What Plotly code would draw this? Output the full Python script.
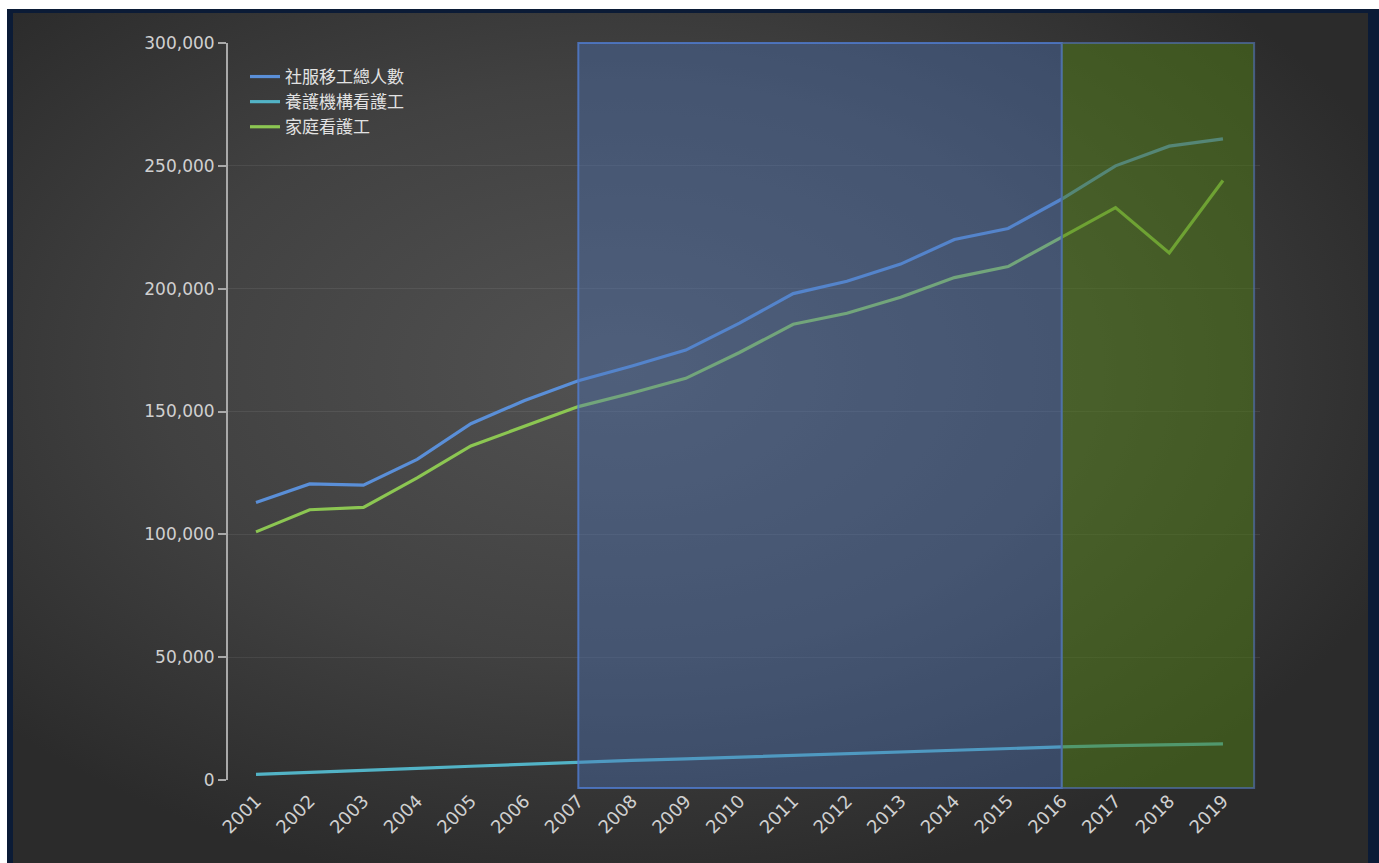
import base64
import plotly.graph_objects as go

years = list(range(2001, 2020))
total_workers = [113000, 120500, 120000, 130500, 145000, 154500, 162500, 168500, 175000, 186000,
                 198000, 203000, 210000, 220000, 224500, 236500, 250000, 258000, 261000]
institution_carers = [2300, 3000, 3800, 4700, 5600, 6500, 7200, 8000, 8600, 9300,
                      10000, 10800, 11500, 12300, 12800, 13500, 14000, 14500, 14700]
home_carers = [101000, 110000, 111000, 123000, 136000, 144000, 152000, 157500, 163500, 174000,
               185500, 190000, 196500, 204500, 209000, 221000, 233000, 214500, 244000]
series_names = ["社服移工總人數", "養護機構看護工", "家庭看護工"]
band_blue = (2007, 2016)
band_green = (2016, 2019.58)

W, H = 1379, 863
ML, MR, MT, MB = 228, 119, 43, 83
PW, PH = W - ML - MR, H - MT - MB
STEP = 53.72        # px per year on the data axis

svg = f"""<svg xmlns='http://www.w3.org/2000/svg' width='{W}' height='{H}' viewBox='0 0 {W} {H}' preserveAspectRatio='none'>
<defs><radialGradient id='g' cx='0.45' cy='0.42' r='0.62'>
<stop offset='0' stop-color='#525252'/><stop offset='0.55' stop-color='#414141'/><stop offset='1' stop-color='#2b2b2b'/></radialGradient></defs>
<rect width='{W}' height='{H}' fill='#ffffff'/>
<rect x='7' y='9' width='{W-7}' height='{H-9}' fill='#0b1b36'/>
<rect x='13' y='13' width='{W-13-11}' height='{H-13}' fill='url(#g)'/>
</svg>"""
svg_uri = "data:image/svg+xml;base64," + base64.b64encode(svg.encode()).decode()

fig = go.Figure()
fig.add_trace(go.Scatter(x=years, y=total_workers, name=series_names[0], mode="lines",
                         line=dict(color="#5a8fd8", width=3.2)))
fig.add_trace(go.Scatter(x=years, y=institution_carers, name=series_names[1], mode="lines",
                         line=dict(color="#52b3c6", width=3.2)))
fig.add_trace(go.Scatter(x=years, y=home_carers, name=series_names[2], mode="lines",
                         line=dict(color="#8cc652", width=3.2)))

ybot = -8 / PH
fig.add_shape(type="rect", xref="x", yref="paper", x0=band_blue[0], x1=band_blue[1], y0=ybot, y1=1,
              fillcolor="rgba(75,115,185,0.40)", line=dict(color="rgba(80,125,210,0.8)", width=2), layer="above")
fig.add_shape(type="rect", xref="x", yref="paper", x0=band_green[0], x1=band_green[1], y0=ybot, y1=1,
              fillcolor="rgba(80,125,20,0.50)", line=dict(color="rgba(80,110,170,0.7)", width=2), layer="above")

fig.update_layout(
    width=W, height=H,
    margin=dict(l=ML, r=MR, t=MT, b=MB, pad=0),
    paper_bgcolor="rgba(0,0,0,0)",
    plot_bgcolor="rgba(0,0,0,0)",
    images=[dict(source=svg_uri, xref="paper", yref="paper",
                 x=-ML / PW, y=1 + MT / PH, sizex=W / PW, sizey=H / PH,
                 xanchor="left", yanchor="top", sizing="stretch", layer="below")],
    font=dict(family="DejaVu Sans, sans-serif", color="#d2d2d2", size=16),
    showlegend=True,
    legend=dict(x=(245 - ML) / PW, y=1 - (59 - MT) / PH, xanchor="left", yanchor="top",
                bgcolor="rgba(0,0,0,0)", itemwidth=30, tracegroupgap=0,
                font=dict(family="Noto Sans CJK TC, sans-serif", size=17, color="#e2e2e2")),
    xaxis=dict(range=[2001 - 28 / STEP, 2001 + (W - MR - 256) / STEP], tickmode="array",
               tickvals=years, ticktext=[str(y) for y in years], tickangle=-45,
               showgrid=False, zeroline=False, showline=False, ticks="", ticklabelstandoff=6,
               tickfont=dict(family="DejaVu Sans, sans-serif", size=18, color="#d0d0d0")),
    yaxis=dict(range=[0, 300000], tickvals=[0, 50000, 100000, 150000, 200000, 250000, 300000],
               tickformat=",", showgrid=True, gridcolor="rgba(255,255,255,0.07)", gridwidth=1,
               zeroline=False, showline=True, linecolor="#a9a9a9", linewidth=2,
               ticks="outside", ticklen=8, tickcolor="#a9a9a9", tickwidth=2,
               tickfont=dict(family="DejaVu Sans, sans-serif", size=17, color="#d0d0d0")),
)

fig.write_html("out.html")
